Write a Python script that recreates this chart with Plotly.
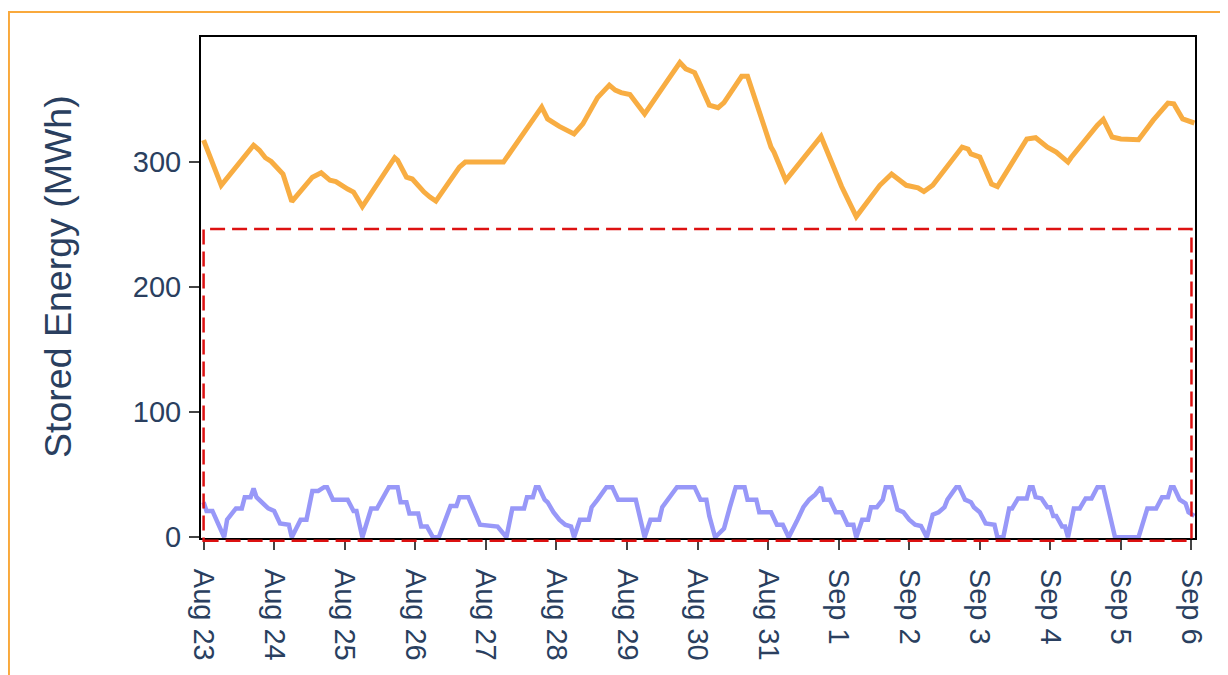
import pandas as pd
import plotly.graph_objects as go

# ---- data (hours since Aug 23 00:00, stored energy in MWh) ----
start_date = "2023-08-23"

orange_hours = [0, 6, 17, 19, 21, 23, 27, 30, 37, 40, 43, 45, 49, 51, 54, 65, 66, 69, 71, 73,
                75, 77, 79, 87, 89, 102, 115, 117, 121, 126, 129, 134, 138, 140, 142, 145, 150,
                157, 162, 164, 167, 168, 171, 172, 175, 177, 183, 185, 193, 194, 198, 210, 217,
                222, 230, 234, 239, 243, 245, 248, 258, 260, 261, 264, 268, 270, 280, 283, 287,
                290, 294, 295, 304, 306, 309, 312, 318, 323, 328, 330, 333, 337]
orange_values = [317, 281, 313, 309, 303, 300, 290, 268, 287.5, 291, 285, 284, 278, 275.6, 264,
                 303, 301, 287.5, 286, 280, 275.6, 271.6, 268.4, 295.5, 299.5, 299.5, 343.4, 334,
                 328, 322, 330, 351, 361, 357, 355, 353.5, 338, 362, 379, 374, 371, 366, 351, 345,
                 343, 347, 368, 368, 311.5, 307.5, 285, 320, 280, 256, 281, 290, 281, 279, 276,
                 281, 311.5, 310, 306, 303.5, 282, 280, 318, 319, 311.5, 307.5, 299.5, 303, 329,
                 333.6, 319.5, 318, 317.4, 333, 346.6, 346, 334, 330.7]

blue_hours = [0, 1, 3, 5, 7, 8, 11, 13, 14, 16, 17, 18, 20, 22, 24, 26, 29, 30, 33, 35, 37, 39,
              41, 42, 44, 49, 51, 52, 54, 57, 59, 61, 63, 66, 67, 69, 70, 73, 74, 76, 78, 80, 83,
              84, 86, 87, 90, 94, 100, 103, 105, 109, 110, 112, 113, 114, 116, 117, 119, 121,
              123, 125, 126, 128, 131, 132, 134, 137, 139, 141, 147, 150, 152, 155, 156, 158,
              161, 167, 169, 171, 172, 174, 177, 179, 181, 184, 185, 188, 189, 193, 195, 197,
              199, 202, 204, 206, 208, 210, 211, 213, 215, 217, 219, 221, 222, 224, 226, 227,
              229, 231, 232, 234, 236, 238, 240, 242, 244, 246, 248, 250, 252, 253, 256, 257,
              259, 261, 262, 264, 266, 269, 270, 272, 274, 275, 277, 280, 281, 282, 283, 285,
              287, 288, 289, 290, 292, 293, 294, 296, 298, 300, 302, 304, 306, 310, 318, 321,
              324, 326, 328, 329, 330, 332, 334, 335, 337]
blue_values = [28, 21, 21, 11, 0, 14, 23, 23, 32, 32, 39, 32, 28, 23, 21, 11, 10, 0, 14, 14, 37,
               37, 40, 40, 30, 30, 21, 21, 0, 23, 23, 32, 40, 40, 28, 28, 19, 19, 8.5, 8.5, 0, 0,
               18, 25, 25, 32, 32, 10, 8.5, 0, 23, 23, 32, 32, 40, 40, 30, 28, 20, 14, 10, 8.5, 0,
               14, 14, 24, 30, 40, 40, 30, 30, 0, 14, 14, 24, 30, 40, 40, 30, 30, 17, 0, 7, 24,
               40, 40, 30, 30, 20, 20, 10, 10, 0, 14, 24, 30, 34, 40, 30, 30, 20, 20, 10, 10, 0,
               14, 14, 24, 24, 30, 40, 40, 22, 20, 14, 10, 9, 0, 18, 20, 24, 30, 40, 40, 30, 28,
               24, 20, 11, 10, 0, 0, 23, 23, 31, 31, 40, 40, 32, 31, 24, 24, 17, 17, 8.5, 8.5, 0,
               23, 23, 31, 31, 40, 40, 0, 0, 23, 23, 32, 32, 40, 40, 30, 27, 20, 17]

y_title = "Stored Energy (MWh)"

# ---- build ----
base = pd.Timestamp(start_date)
orange_x = base + pd.to_timedelta(orange_hours, unit="h")
blue_x = base + pd.to_timedelta(blue_hours, unit="h")

fig = go.Figure()
fig.add_trace(go.Scatter(x=orange_x, y=orange_values, mode="lines",
                         line=dict(color="#F8AD42", width=5), showlegend=False))
fig.add_trace(go.Scatter(x=blue_x, y=blue_values, mode="lines",
                         line=dict(color="#9898F8", width=4.5), showlegend=False))

x_min_h, x_max_h = -0.88, 337.2
x_range = [base + pd.Timedelta(hours=x_min_h), base + pd.Timedelta(hours=x_max_h)]
span = x_max_h - x_min_h

# red dashed highlight box (paper coords)
fig.add_shape(type="rect", xref="paper", yref="paper",
              x0=(0 - x_min_h) / span, x1=(336 - x_min_h) / span,
              y0=-0.0054, y1=0.6168,
              line=dict(color="#DD1111", width=2.5, dash="15px,7px"),
              fillcolor="rgba(0,0,0,0)", layer="above")
# orange outer frame
fig.add_shape(type="rect", xref="paper", yref="paper",
              x0=-0.1932, x1=1.3, y0=-0.6, y1=1.0499,
              line=dict(color="#F9A93C", width=2), fillcolor="rgba(0,0,0,0)")

# y-axis title as a rotated annotation
fig.add_annotation(text=y_title, xref="paper", yref="paper", x=-0.1439, y=0.523,
                   xanchor="center", yanchor="middle", textangle=-90, showarrow=False,
                   font=dict(size=37.5, color="#2a3f5f"))

fig.update_layout(
    width=1228, height=675,
    margin=dict(l=193, r=41, t=29, b=145, autoexpand=False),
    paper_bgcolor="white", plot_bgcolor="white",
    font=dict(family="Liberation Sans, Arial, sans-serif", color="#2a3f5f", size=29),
)
fig.update_xaxes(
    range=x_range, type="date", tick0=base, dtick=86400000, tickformat="%b %-d",
    tickangle=90, ticks="outside", ticklen=10, tickwidth=2, tickcolor="#444",
    ticklabelstandoff=13,
    showline=True, linecolor="black", linewidth=2, mirror=True, showgrid=False,
    zeroline=False, automargin=False, tickfont=dict(size=29),
)
fig.update_yaxes(
    range=[-0.6, 399.4], tickvals=[0, 100, 200, 300],
    ticks="outside", ticklen=10, tickwidth=2, tickcolor="#444",
    ticklabelstandoff=2,
    showline=True, linecolor="black", linewidth=2, mirror=True, showgrid=False,
    zeroline=False, automargin=False, tickfont=dict(size=29),
)

fig.write_html("out.html")
